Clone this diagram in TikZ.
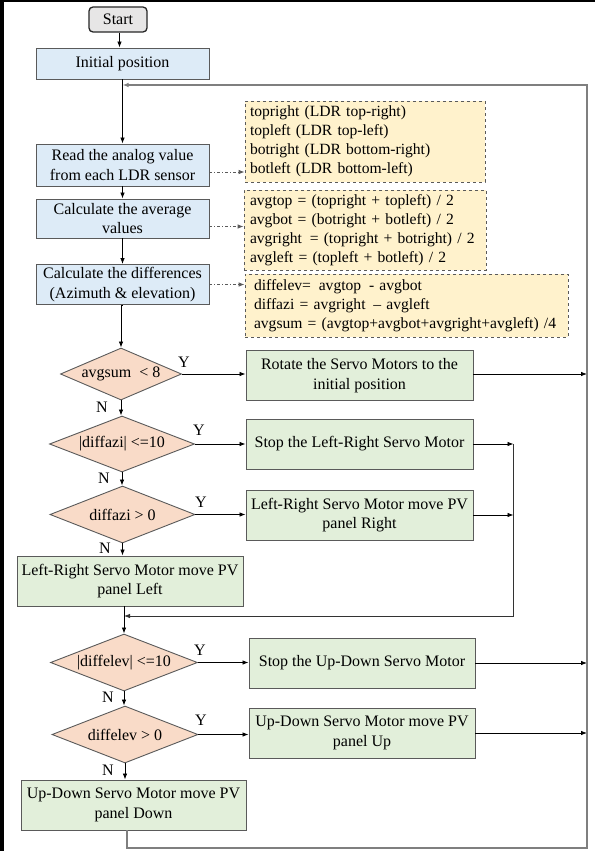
\documentclass[tikz,border=0pt]{standalone}
\usepackage{fontspec}
\setmainfont{Liberation Serif}
\newfontfamily\tnr{Liberation Serif}
\usetikzlibrary{shapes.geometric,arrows.meta,calc}
\definecolor{blueF}{HTML}{DDEBF7}
\definecolor{greenF}{HTML}{E2EFDA}
\definecolor{peachF}{HTML}{F9DBC8}
\definecolor{yellowF}{HTML}{FFF2CC}
\definecolor{startF}{HTML}{E7E6E6}
\definecolor{boxD}{HTML}{5A5A5A}
\definecolor{loopC}{HTML}{7F7F7F}
\begin{document}
\begin{tikzpicture}[x=1pt,y=-1pt,
  font=\tnr\fontsize{16}{19.5}\selectfont,
  bluebox/.style={draw=boxD, line width=0.9pt, fill=blueF, align=center, inner sep=0pt},
  greenbox/.style={draw=boxD, line width=0.9pt, fill=greenF, align=center, inner sep=0pt},
  yelbox/.style={draw=boxD, dashed, line width=0.8pt, fill=yellowF, align=left, inner xsep=5pt, inner ysep=0pt, font=\tnr\fontsize{15.6}{19}\selectfont},
  decbox/.style={diamond, aspect=3, draw=boxD, line width=0.9pt, fill=peachF, inner sep=0pt},
  startbox/.style={draw=black!85, line width=1.3pt, fill=startF, rounded corners=4pt, inner sep=0pt, minimum width=58pt, minimum height=25pt},
  arr/.style={-{Latex[length=6pt,width=4.5pt]}, line width=0.8pt, draw=black},
  dda/.style={arr, dash pattern=on 3pt off 2pt on 1pt off 2pt, draw=boxD},
  loopline/.style={draw=loopC, line width=1.3pt},
  looparr/.style={loopline, -{Latex[length=6pt,width=4.5pt]}},
  lab/.style={inner sep=0pt}
]
\useasboundingbox (0,0) rectangle (595,851);
\fill[white] (0,0) rectangle (595,851);
\fill[black] (0,0) rectangle (3.5,851);
\fill[black] (0,0) rectangle (595,2.2);

% main column
\node[startbox] (start) at (118,19.5) {Start};
\node[bluebox, minimum width=173pt, minimum height=31pt] (init) at (122.5,63.5) {Initial position};
\node[bluebox, minimum width=173pt, minimum height=42pt] (read) at (122.5,165) {Read the analog value\\from each LDR sensor};
\node[bluebox, minimum width=173pt, minimum height=39pt] (avg) at (122.5,218.5) {Calculate the average\\values};
\node[bluebox, minimum width=173pt, minimum height=40pt] (diff) at (122.5,284.5) {Calculate the differences\\(Azimuth \& elevation)};

% notes
\node[yelbox, text width=230pt, minimum height=81pt] (y1) at (365,141.5) {\mbox{topright (LDR top-right)}\\\mbox{topleft (LDR top-left)}\\\mbox{botright (LDR bottom-right)}\\\mbox{botleft (LDR bottom-left)}};
\node[yelbox, text width=230pt, inner xsep=6pt, minimum height=80pt] (y2) at (365,230) {\mbox{avgtop = (topright + topleft) / 2}\\\mbox{avgbot = (botright + botleft) / 2}\\\mbox{avgright\, = (topright + botright) / 2}\\\mbox{avgleft = (topleft + botleft) / 2}};
\node[yelbox, text width=305pt, inner xsep=9pt, minimum height=63pt] (y3) at (406.5,305.5) {\mbox{diffelev=\, avgtop\, - avgbot}\\\mbox{diffazi = avgright\, – avgleft}\\\mbox{avgsum = (avgtop+avgbot+avgright+avgleft) /4}};

% decisions and actions
\node[decbox, minimum width=115pt, minimum height=52pt] (d1) at (121,374) {avgsum~ < 8};
\node[greenbox, minimum width=227pt, minimum height=50pt] (rot) at (359.5,375.5) {Rotate the Servo Motors to the\\initial position};

\node[decbox, minimum width=145pt, minimum height=56pt] (d2) at (122,444) {|diffazi| <=10};
\node[greenbox, minimum width=227pt, minimum height=50pt] (stoplr) at (359.5,444) {Stop the Left-Right Servo Motor};

\node[decbox, minimum width=145pt, minimum height=57pt] (d3) at (122.5,514.5) {diffazi > 0};
\node[greenbox, minimum width=227pt, minimum height=50pt] (lrr) at (359.5,515) {Left-Right Servo Motor move PV\\panel Right};

\node[greenbox, minimum width=226pt, minimum height=50pt] (lrl) at (130,581) {Left-Right Servo Motor move PV\\panel Left};

\node[decbox, minimum width=147pt, minimum height=57pt] (d4) at (124,662.5) {|diffelev| <=10};
\node[greenbox, minimum width=226pt, minimum height=50pt] (stopud) at (362,663) {Stop the Up-Down Servo Motor};

\node[decbox, minimum width=146pt, minimum height=57pt] (d5) at (125,734.5) {diffelev > 0};
\node[greenbox, minimum width=226pt, minimum height=50pt] (upb) at (362,733) {Up-Down Servo Motor move PV\\panel Up};

\node[greenbox, minimum width=225pt, minimum height=50pt] (downb) at (133.5,805) {Up-Down Servo Motor move PV\\panel Down};

% helper coordinates
\coordinate (rtop) at (587,85);
\coordinate (cbot) at (587,848);
\coordinate (vbot) at (513.5,616);

% Y / N labels
\node[lab] (y1l) at (184,362) {Y};
\node[lab] (n1l) at (102,407) {N};
\node[lab] (y2l) at (199,430) {Y};
\node[lab] (n2l) at (104,478) {N};
\node[lab] (y3l) at (201,502) {Y};
\node[lab] (n3l) at (105,548) {N};
\node[lab] (y4l) at (200,650) {Y};
\node[lab] (n4l) at (108,697) {N};
\node[lab] (y5l) at (201,720) {Y};
\node[lab] (n5l) at (108,770) {N};

% connectors
\draw[arr] (start.south -| init.north) ++(-3,0) coordinate (s0) -- (s0 |- init.north);
\draw[arr] (init) -- (read);
\draw[arr] (read) -- (avg);
\draw[arr] (avg) -- (diff);
\draw[arr] (diff.south) -- (diff.south -| d1.north) -- (d1.north);

\draw[dda] ([yshift=-7pt]read.east) -- ([yshift=-7pt]read.east -| y1.west);
\draw[dda] ([yshift=-8pt]avg.east) -- ([yshift=-8pt]avg.east -| y2.west);
\draw[dda] (diff.east) -- (diff.east -| y3.west);

\draw[arr] (d1.east) -- (d1.east -| rot.west);
\draw[arr] (rot.east |- d1.east) -- (d1.east -| rtop);
\draw[arr] (d1.south) -- (d1.south |- d2.north);
\draw[arr] (d2.east) -- (d2.east -| stoplr.west);
\draw[arr] (d2.south) -- (d2.south |- d3.north);
\draw[arr] (d3.east) -- (d3.east -| lrr.west);
\draw[arr] (d3.south) -- (d3.south |- lrl.north);

\draw[arr] (stoplr.east) -- (stoplr.east -| vbot);
\draw[arr] (lrr.east) -- (lrr.east -| vbot);
\draw[arr, draw=black!80] (stoplr.east -| vbot) -- (vbot) -- (vbot -| d4.north);
\draw[arr] (lrl.south -| d4.north) -- (d4.north);

\draw[arr] (d4.east) -- (d4.east -| stopud.west);
\draw[arr] (stopud.east) -- (stopud.east -| rtop);
\draw[arr] (d4.south) -- (d4.south |- d5.north);
\draw[arr] (d5.east) -- (d5.east -| upb.west);
\draw[arr] (upb.east) -- (upb.east -| rtop);
\draw[arr] (d5.south) -- (d5.south |- downb.north);

\draw[looparr] ([xshift=2pt]downb.south -| d5.south) |- (cbot) -- (rtop) -- (rtop -| init.south);
\end{tikzpicture}
\end{document}
